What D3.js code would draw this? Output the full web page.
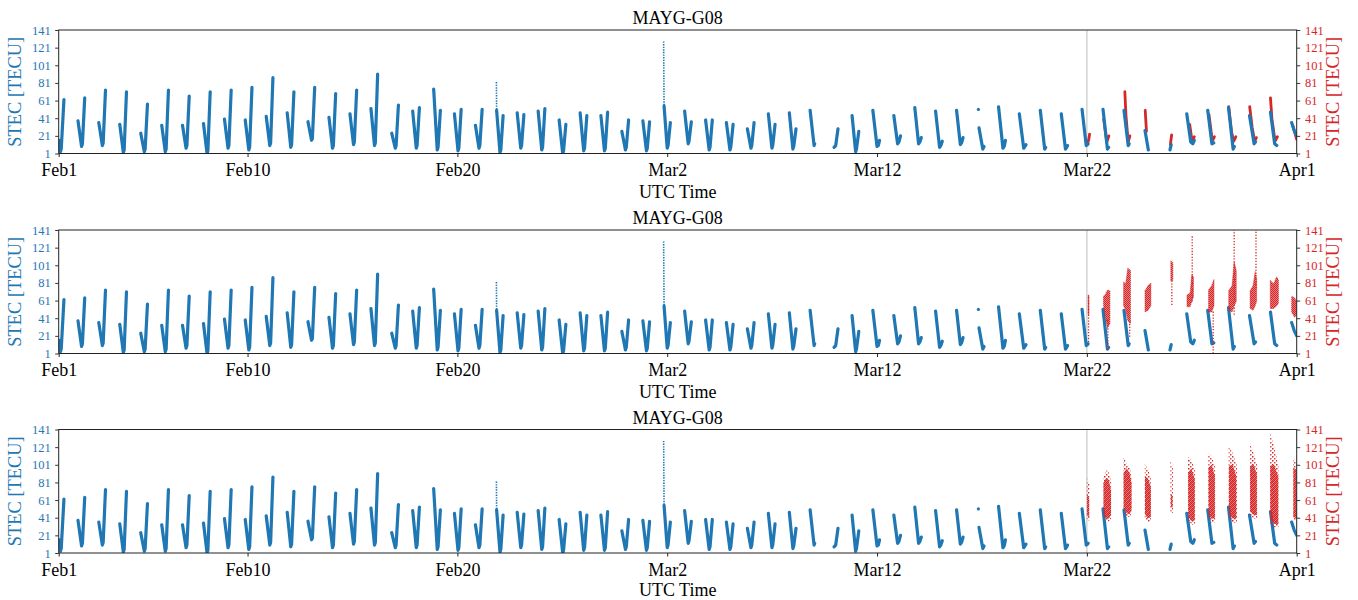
<!DOCTYPE html>
<html><head><meta charset="utf-8">
<script src="https://cdn.jsdelivr.net/npm/d3@7"></script>
<style>
body{margin:0;background:#fff}
svg{display:block}
text{font-family:"Liberation Serif","Times New Roman",serif}
</style>
</head><body>
<svg id="chart" width="1358" height="600"></svg>
<script>
// ---------------- data ----------------
const panelTitle = "MAYG-G08";
const xLabel = "UTC Time";
const yLabel = "STEC [TECU]";
const startDate = Date.UTC(2021, 1, 1);           // Feb 1, 00:00 UTC
const endDay = 59;                                 // Apr 1
const xTickDays = [0, 9, 19, 29, 39, 49, 59];
const xTickLabels = ["Feb1", "Feb10", "Feb20", "Mar2", "Mar12", "Mar22", "Apr1"];
const yTicks = [1, 21, 41, 61, 81, 101, 121, 141];
const markerDay = 49;                              // Mar22 reference line

// blue series: daily passes, [days since Feb1, STEC]
const blueArcs = [
 [[0.01,16],[0.08,3],[0.12,6],[0.25,62]],
 [[0.92,38],[1.09,9],[1.13,12],[1.24,64]],
 [[1.91,36],[2.08,10],[2.12,13],[2.23,73]],
 [[2.91,34],[3.08,2],[3.12,5],[3.23,71]],
 [[3.91,24],[4.08,3],[4.12,6],[4.23,57]],
 [[4.91,33],[5.08,3],[5.12,6],[5.23,73]],
 [[5.90,33],[6.07,7],[6.11,10],[6.22,66]],
 [[6.90,35],[7.07,1],[7.11,4],[7.22,71]],
 [[7.90,40],[8.07,7],[8.11,10],[8.22,73]],
 [[8.89,39],[9.06,5],[9.10,8],[9.21,76]],
 [[9.89,43],[10.06,10],[10.10,13],[10.21,87]],
 [[10.89,47],[11.06,8],[11.10,11],[11.21,71]],
 [[11.88,37],[12.05,16],[12.09,18],[12.20,76]],
 [[12.88,42],[13.05,7],[13.09,10],[13.20,69]],
 [[13.88,46],[14.05,11],[14.09,14],[14.20,73]],
 [[14.88,52],[15.05,10],[15.09,13],[15.20,91]],
 [[15.87,24],[16.04,7],[16.08,10],[16.19,56]],
 [[16.87,49],[17.04,7],[17.08,10],[17.19,53]],
 [[17.87,74],[18.04,5],[18.08,8],[18.19,50]],
 [[18.86,46],[19.03,4],[19.07,7],[19.18,51]],
 [[19.86,33],[20.03,7],[20.07,10],[20.18,51]],
 [[20.87,50],[21.03,2],[21.07,5],[21.18,44]],
 [[21.85,47],[22.02,7],[22.06,10],[22.17,45]],
 [[22.85,49],[23.02,5],[23.06,8],[23.17,52]],
 [[23.85,39],[24.02,1],[24.06,4],[24.17,34]],
 [[24.85,47],[25.02,4],[25.06,7],[25.17,44]],
 [[25.84,44],[26.01,4],[26.05,7],[26.16,48]],
 [[26.84,26],[27.01,5],[27.05,8],[27.16,39]],
 [[27.84,38],[28.01,4],[28.05,7],[28.16,37]],
 [[28.85,55],[29.00,7],[29.04,10],[29.15,36]],
 [[29.83,49],[30.00,12],[30.04,15],[30.15,37]],
 [[30.83,39],[31.00,5],[31.04,8],[31.15,39]],
 [[31.82,36],[31.99,5],[32.03,8],[32.14,34]],
 [[32.82,29],[32.99,7],[33.03,10],[33.14,36]],
 [[33.82,46],[33.99,7],[34.03,10],[34.14,34]],
 [[34.82,47],[34.99,6],[35.03,9],[35.14,29]],
 [[35.81,50],[36.00,10],[36.03,12]],
 [[36.95,8],[37.03,10],[37.14,29]],
 [[37.81,44],[37.98,3],[38.02,6],[38.13,26]],
 [[38.80,50],[39.00,9],[39.06,10],[39.12,16]],
 [[39.80,44],[39.98,12],[40.04,14],[40.12,21]],
 [[40.80,53],[40.98,12],[41.04,14],[41.11,19]],
 [[41.79,49],[41.98,8],[42.04,10],[42.11,15]],
 [[42.79,50],[42.97,11],[43.03,13],[43.10,19]],
 [[43.86,30],[44.04,6],[44.10,9]],
 [[44.79,54],[45.00,7],[45.06,9],[45.12,16]],
 [[45.78,46],[45.99,7],[46.05,9],[46.10,11]],
 [[46.78,50],[46.99,6],[47.04,8]],
 [[47.78,46],[47.98,6],[48.04,8],[48.08,10]],
 [[48.77,51],[48.97,10],[49.03,11],[49.06,12]],
 [[49.77,51],[49.98,6],[50.04,8]],
 [[50.77,50],[50.97,10],[51.02,12]],
 [[51.77,27],[51.93,5]],
 [[52.96,5],[53.02,11]],
 [[53.76,46],[53.95,14],[54.05,12],[54.12,16]],
 [[54.76,50],[54.96,12],[55.05,13]],
 [[55.75,53],[55.97,6],[56.03,9]],
 [[56.75,44],[56.97,12],[57.04,14]],
 [[57.75,48],[57.95,12],[58.05,10]],
 [[58.76,36],[58.88,27],[59.00,21]]
];
// sparse (dotted) stretches of the blue series
const blueSparse = [
 [[20.86,82],[20.87,50]],
 [[28.83,128],[28.85,55]]
];
const blueDots = [[43.83,51]];

// panel 1 red series (passes), [day, STEC]
const redLines1 = [
 [[49.04,13],[49.09,17],[49.13,23]],
 [[49.80,40],[49.95,14],[50.05,21]],
 [[50.81,71],[50.86,45],[50.97,14],[51.05,21]],
 [[51.78,50],[51.84,26]],
 [[52.98,11],[53.04,22]],
 [[53.90,34],[54.02,14],[54.12,20]],
 [[54.82,45],[54.98,15],[55.08,20]],
 [[55.76,54],[55.90,25],[56.00,15],[56.10,20]],
 [[56.76,54],[56.88,30],[57.00,15],[57.08,19]],
 [[57.75,64],[57.82,40],[57.97,15],[58.08,20]],
 [[58.82,32],[59.00,17]]
];

// panel 2 red series: dense clusters [day, low, high] and sparse columns [day, low, high]
const redCore2 = [
 [[49.06,45,67],[49.10,45,67]],
 [[49.79,56,66],[49.88,42,68],[49.98,30,73],[50.10,35,72]],
 [[50.75,55,82],[50.85,50,80],[50.95,38,98],[51.08,35,95]],
 [[51.77,48,72],[51.92,50,78],[52.05,55,81]],
 [[53.00,83,106],[53.10,84,104]],
 [[53.77,54,67],[53.92,54,70],[54.00,60,90],[54.08,65,88]],
 [[54.80,48,73],[54.95,48,78],[55.06,55,85]],
 [[55.76,50,72],[55.92,48,78],[56.02,55,105],[56.12,60,95]],
 [[56.78,52,72],[56.92,50,78],[57.02,55,94],[57.09,60,85]],
 [[57.74,52,84],[57.90,52,80],[58.05,55,88],[58.13,58,84]],
 [[58.76,48,66],[58.90,42,64],[59.00,45,60]]
];
const redSparse2 = [
 [49.08,14,67],
 [50.00,5,40],
 [51.04,20,40],
 [53.05,56,84],
 [54.02,60,134],
 [55.02,1,50],
 [56.02,45,141],
 [57.06,75,141]
];

// panel 3 red series: dense cores and scattered envelopes [day, low, high]
const redCore3 = [
 [[49.01,45,68],[49.06,42,66],[49.11,40,62]],
 [[49.79,45,80],[49.92,40,86],[50.04,40,84],[50.15,44,72]],
 [[50.75,52,92],[50.90,46,97],[51.03,45,92],[51.13,50,80]],
 [[51.77,45,88],[51.90,40,86],[52.05,42,76]],
 [[53.00,54,68],[53.08,52,66]],
 [[53.83,42,92],[53.98,37,97],[54.14,38,85]],
 [[54.80,44,98],[54.95,40,101],[55.10,40,88]],
 [[55.77,45,100],[55.95,40,101],[56.12,40,88]],
 [[56.78,48,100],[56.95,44,101],[57.10,44,90]],
 [[57.74,40,100],[57.92,34,101],[58.12,34,88]],
 [[58.84,42,98],[59.00,40,95]]
];
const redOuter3 = [
 [[49.00,40,87],[49.12,37,78]],
 [[49.79,40,88],[49.95,36,95],[50.05,37,92],[50.16,40,82]],
 [[50.74,48,111],[50.90,42,102],[51.05,42,98],[51.14,46,86]],
 [[51.76,40,102],[51.92,36,96],[52.05,38,86]],
 [[52.98,48,106],[53.10,46,98]],
 [[53.82,38,110],[54.00,33,106],[54.16,34,94]],
 [[54.79,40,114],[54.95,35,110],[55.12,36,98]],
 [[55.76,40,122],[55.95,35,114],[56.15,36,100]],
 [[56.77,44,125],[56.95,40,114],[57.12,40,100]],
 [[57.73,34,137],[57.92,30,122],[58.13,30,100]],
 [[58.83,38,108],[59.00,38,104]]
];

// ---------------- drawing ----------------
const BLUE = "#1f77b4", RED = "#d62728";
const svg = d3.select("#chart");
const plotLeft = 58.7, plotRight = 1296.7;
const panelTops = [30, 230, 429.5];
const panelH = 123.5;
const toDate = d => new Date(startDate + d * 864e5);

const x = d3.scaleUtc().domain([toDate(0), toDate(endDay)]).range([plotLeft, plotRight]);

const defs = svg.append("defs");
const pat = defs.append("pattern").attr("id", "sparseDots")
  .attr("patternUnits", "userSpaceOnUse").attr("width", 4).attr("height", 4);
pat.append("rect").attr("x", 0).attr("y", 0).attr("width", 1.5).attr("height", 1.5).attr("fill", RED);
pat.append("rect").attr("x", 2).attr("y", 2).attr("width", 1.5).attr("height", 1.5).attr("fill", RED).attr("fill-opacity", 0.85);
const pat2 = defs.append("pattern").attr("id", "denseDots")
  .attr("patternUnits", "userSpaceOnUse").attr("width", 2).attr("height", 2);
pat2.append("rect").attr("width", 2).attr("height", 2).attr("fill", RED).attr("fill-opacity", 0.6);
pat2.append("rect").attr("width", 1).attr("height", 1).attr("fill", RED);
pat2.append("rect").attr("x", 1).attr("y", 1).attr("width", 1).attr("height", 1).attr("fill", RED);

panelTops.forEach((T, pi) => {
  const B = T + panelH;
  const y = d3.scaleLinear().domain([yTicks[0], yTicks[yTicks.length - 1]]).range([B, T]);
  const g = svg.append("g");

  defs.append("clipPath").attr("id", "clip" + pi)
    .append("rect").attr("x", plotLeft).attr("y", T).attr("width", plotRight - plotLeft).attr("height", panelH);

  const plot = g.append("g").attr("clip-path", `url(#clip${pi})`);

  // reference line
  plot.append("line")
    .attr("x1", x(toDate(markerDay))).attr("x2", x(toDate(markerDay)))
    .attr("y1", T).attr("y2", B)
    .attr("stroke", "#c8c8c8").attr("stroke-width", 1.2);

  const line = d3.line().x(p => x(toDate(p[0]))).y(p => y(p[1]));
  const area = d3.area().x(p => x(toDate(p[0]))).y0(p => y(p[1])).y1(p => y(p[2]));

  if (pi === 0) {
    plot.selectAll(".r1").data(redLines1).join("path")
      .attr("d", line).attr("fill", "none").attr("stroke", RED)
      .attr("stroke-width", 2.8).attr("stroke-linejoin", "round").attr("stroke-linecap", "round");
  }

  // blue series
  plot.selectAll(".b").data(blueArcs).join("path")
    .attr("d", line).attr("fill", "none").attr("stroke", BLUE)
    .attr("stroke-width", 3.2).attr("stroke-linejoin", "round").attr("stroke-linecap", "round");
  plot.selectAll(".bs").data(blueSparse).join("path")
    .attr("d", line).attr("fill", "none").attr("stroke", BLUE)
    .attr("stroke-width", 1.6).attr("stroke-dasharray", "1.4 1.2");
  plot.selectAll(".bd").data(blueDots).join("circle")
    .attr("cx", p => x(toDate(p[0]))).attr("cy", p => y(p[1])).attr("r", 1.6).attr("fill", BLUE);

  if (pi === 1) {
    plot.selectAll(".s2").data(redSparse2).join("line")
      .attr("x1", p => x(toDate(p[0]))).attr("x2", p => x(toDate(p[0])))
      .attr("y1", p => y(p[1])).attr("y2", p => y(p[2]))
      .attr("stroke", RED).attr("stroke-width", 1.3).attr("stroke-dasharray", "1.3 1.6");
    plot.selectAll(".c2").data(redCore2).join("path")
      .attr("d", area).attr("fill", "url(#denseDots)")
      .attr("stroke", RED).attr("stroke-width", 0.9).attr("stroke-opacity", 0.75)
      .attr("stroke-dasharray", "1.2 0.8");
  }
  if (pi === 2) {
    plot.selectAll(".o3").data(redOuter3).join("path")
      .attr("d", area).attr("fill", "url(#sparseDots)");
    plot.selectAll(".c3").data(redCore3).join("path")
      .attr("d", area).attr("fill", "url(#denseDots)");
  }

  // frame
  g.append("rect").attr("x", plotLeft).attr("y", T)
    .attr("width", plotRight - plotLeft).attr("height", panelH)
    .attr("fill", "none").attr("stroke", "#222").attr("stroke-width", 1);

  // axes
  const xAxis = d3.axisBottom(x)
    .tickValues(xTickDays.map(toDate))
    .tickFormat((d, i) => xTickLabels[i])
    .tickSize(3.5).tickPadding(6.4);
  const gx = g.append("g").attr("transform", `translate(0,${B})`).call(xAxis);
  gx.select(".domain").remove();
  gx.selectAll("line").attr("stroke", "#222");
  gx.selectAll("text").attr("font-size", 18).attr("fill", "#000")
    .style("font-family", '"Liberation Serif", serif');

  const yl = d3.axisLeft(y).tickValues(yTicks).tickSize(3.5).tickPadding(4.5);
  const gyl = g.append("g").attr("transform", `translate(${plotLeft},0)`).call(yl);
  gyl.select(".domain").remove();
  gyl.selectAll("line").attr("stroke", "#333");
  gyl.selectAll("text").attr("font-size", 12.5).attr("fill", BLUE)
    .style("font-family", '"Liberation Serif", serif');

  const yr = d3.axisRight(y).tickValues(yTicks).tickSize(3.5).tickPadding(4.8);
  const gyr = g.append("g").attr("transform", `translate(${plotRight},0)`).call(yr);
  gyr.select(".domain").remove();
  gyr.selectAll("line").attr("stroke", "#333");
  gyr.selectAll("text").attr("font-size", 12.5).attr("fill", RED)
    .style("font-family", '"Liberation Serif", serif');

  const cx = (plotLeft + plotRight) / 2;
  g.append("text").attr("x", cx).attr("y", T - 6).attr("text-anchor", "middle")
    .attr("font-size", 18).attr("fill", "#000").text(panelTitle);
  g.append("text").attr("x", cx).attr("y", Math.min(B + 44.5, 595.5)).attr("text-anchor", "middle")
    .attr("font-size", 18).attr("fill", "#000").text(xLabel);

  const cy = (T + B) / 2;
  g.append("text").attr("transform", `translate(20.5,${cy}) rotate(-90)`)
    .attr("text-anchor", "middle").attr("font-size", 18.4).attr("fill", BLUE).text(yLabel);
  g.append("text").attr("transform", `translate(1339.2,${cy}) rotate(-90)`)
    .attr("text-anchor", "middle").attr("font-size", 18.4).attr("fill", RED).text(yLabel);
});
</script>
</body></html>
